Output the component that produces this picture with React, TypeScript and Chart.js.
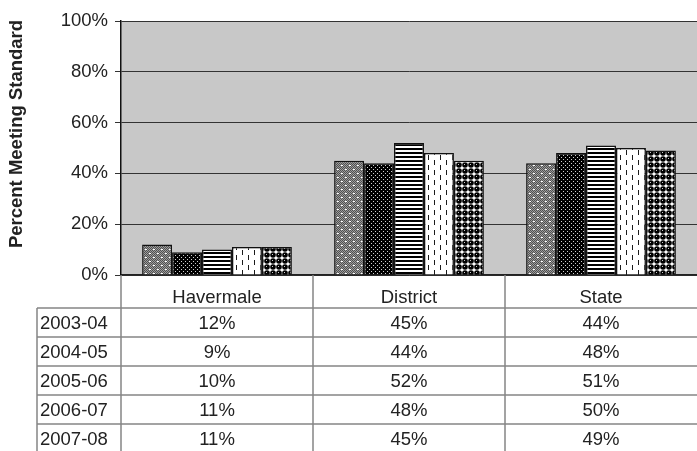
import { useEffect, useRef } from 'react';
import { Chart, registerables } from 'chart.js';

Chart.register(...registerables);

const categories = ['Havermale', 'District', 'State'];
const seasons = ['2003-04', '2004-05', '2005-06', '2006-07', '2007-08'];
const values0304 = [12, 45, 44];
const values0405 = [9, 44, 48];
const values0506 = [10, 52, 51];
const values0607 = [11, 48, 50];
const values0708 = [11, 45, 49];
const yTickValues = [0, 20, 40, 60, 80, 100];
const yTitle = 'Percent Meeting Standard';

const seriesValues = [values0304, values0405, values0506, values0607, values0708];

const FONT = '"Liberation Sans", Arial, Helvetica, sans-serif';
const FS = 18.5;
const TEXT = '#222222';

function makeTile(w: number, h: number, draw: (c: CanvasRenderingContext2D) => void) {
  const cv = document.createElement('canvas');
  cv.width = w;
  cv.height = h;
  const c = cv.getContext('2d')!;
  draw(c);
  return cv;
}

function makePatterns(ctx: CanvasRenderingContext2D) {
  const p1 = makeTile(8, 8, (c) => {
    c.fillStyle = '#9c9c9c';
    c.fillRect(0, 0, 8, 8);
    c.fillStyle = '#505050';
    for (let y = 0; y < 8; y++) for (let x = 0; x < 8; x++) if ((x + y) % 2 === 0) c.fillRect(x, y, 1, 1);
    c.fillStyle = '#ffffff';
    c.fillRect(1, 1, 2, 1);
    c.fillRect(5, 5, 2, 1);
  });
  const p2 = makeTile(4, 4, (c) => {
    c.fillStyle = '#000000';
    c.fillRect(0, 0, 4, 4);
    c.fillStyle = '#d0d0d0';
    c.fillRect(1, 1, 1, 1);
    c.fillRect(3, 3, 1, 1);
  });
  const p3 = makeTile(4, 4, (c) => {
    c.fillStyle = '#ffffff';
    c.fillRect(0, 0, 4, 4);
    c.fillStyle = '#000000';
    c.fillRect(0, 0, 4, 2);
  });
  const p4 = makeTile(12, 10, (c) => {
    c.fillStyle = '#ffffff';
    c.fillRect(0, 0, 12, 10);
    c.fillStyle = '#1a1a1a';
    c.fillRect(2, 0, 1, 5);
    c.fillRect(8, 5, 1, 5);
  });
  const p5 = makeTile(6, 6, (c) => {
    c.fillStyle = '#ffffff';
    c.fillRect(0, 0, 6, 6);
    c.fillStyle = '#000000';
    c.beginPath();
    c.arc(3, 3, 2.8, 0, Math.PI * 2);
    c.fill();
    c.fillStyle = '#cccccc';
    c.fillRect(2, 2, 1, 1);
  });
  return [p1, p2, p3, p4, p5].map((t) => ctx.createPattern(t, 'repeat')!);
}

const plotBackground = {
  id: 'plotBackground',
  beforeDraw(chart: any) {
    const { ctx, chartArea } = chart;
    ctx.save();
    ctx.fillStyle = '#c8c8c8';
    ctx.fillRect(chartArea.left, chartArea.top, chartArea.right - chartArea.left, chartArea.bottom - chartArea.top);
    ctx.restore();
  },
};

const yTitlePlugin = {
  id: 'yTitlePlugin',
  afterDraw(chart: any) {
    const { ctx } = chart;
    ctx.save();
    ctx.translate(17, 134);
    ctx.rotate(-Math.PI / 2);
    ctx.fillStyle = TEXT;
    ctx.font = `bold ${FS}px ${FONT}`;
    ctx.textAlign = 'center';
    ctx.textBaseline = 'middle';
    ctx.fillText(yTitle, 0, 0);
    ctx.restore();
  },
};

const dataTable = {
  id: 'dataTable',
  afterDraw(chart: any) {
    const { ctx, chartArea } = chart;
    const x = chart.scales.x;
    const rowH = 29;
    const tableTop = x.bottom;
    const labelLeft = 37;
    const n = categories.length;
    const centers = categories.map((_, i) => x.getPixelForValue(i));
    const bounds: number[] = [chartArea.left];
    for (let i = 0; i < n - 1; i++) bounds.push((centers[i] + centers[i + 1]) / 2);
    bounds.push(chartArea.right);
    const bottom = chart.height + 2;

    ctx.save();
    ctx.strokeStyle = '#858585';
    ctx.lineWidth = 1.5;
    for (let r = 0; r < seasons.length; r++) {
      const y = tableTop + r * rowH;
      ctx.beginPath();
      ctx.moveTo(labelLeft, y);
      ctx.lineTo(chartArea.right, y);
      ctx.stroke();
    }
    ctx.beginPath();
    ctx.moveTo(labelLeft, tableTop);
    ctx.lineTo(labelLeft, bottom);
    ctx.stroke();
    bounds.forEach((bx, i) => {
      if (i === bounds.length - 1) return;
      ctx.beginPath();
      ctx.moveTo(bx, chartArea.bottom);
      ctx.lineTo(bx, bottom);
      ctx.stroke();
    });

    ctx.fillStyle = TEXT;
    ctx.font = `${FS}px ${FONT}`;
    ctx.textBaseline = 'middle';
    seasons.forEach((s, r) => {
      const cy = tableTop + r * rowH + rowH / 2 + 1;
      ctx.textAlign = 'left';
      ctx.fillText(s, labelLeft + 3, cy);
      ctx.textAlign = 'center';
      seriesValues[r].forEach((v, i) => {
        ctx.fillText(`${v}%`, centers[i], cy);
      });
    });
    ctx.restore();
  },
};

export default function App() {
  const ref = useRef<HTMLCanvasElement | null>(null);

  useEffect(() => {
    document.body.style.margin = '0';
    const canvas = ref.current!;
    const ctx = canvas.getContext('2d')!;
    const patterns = makePatterns(ctx);
    const chart = new Chart(canvas, {
      type: 'bar',
      data: {
        labels: categories,
        datasets: seasons.map((s, i) => ({
          label: s,
          data: seriesValues[i],
          backgroundColor: patterns[i] as any,
          borderColor: '#111111',
          borderWidth: 1.5,
          categoryPercentage: 0.78,
          barPercentage: 1,
        })),
      },
      options: {
        responsive: false,
        animation: false,
        layout: { padding: { left: 0, right: 0, top: 21, bottom: 143 } },
        plugins: {
          legend: { display: false },
          tooltip: { enabled: false },
        },
        scales: {
          x: {
            grid: { display: false },
            border: { display: true, color: '#222222', width: 1.5 },
            ticks: {
              color: TEXT,
              font: { family: FONT, size: FS },
              padding: 4,
              maxRotation: 0,
            },
            afterFit(scale: any) {
              scale.height = 33;
            },
          },
          y: {
            min: 0,
            max: 100,
            afterBuildTicks(scale: any) {
              scale.ticks = yTickValues.map((v) => ({ value: v }));
            },
            afterFit(scale: any) {
              scale.width = 121;
            },
            grid: {
              color: '#333333',
              lineWidth: 1,
              tickLength: 6,
              tickColor: '#333333',
            },
            border: { display: true, color: '#111111', width: 1.5 },
            ticks: {
              color: TEXT,
              font: { family: FONT, size: FS },
              padding: 7,
              callback: (v: any) => `${v}%`,
            },
          },
        },
      },
      plugins: [plotBackground, dataTable, yTitlePlugin],
    });
    return () => chart.destroy();
  }, []);

  return (
    <div style={{ width: 697, height: 451, overflow: 'hidden' }}>
      <canvas ref={ref} width={697} height={451} style={{ display: 'block' }} />
    </div>
  );
}
